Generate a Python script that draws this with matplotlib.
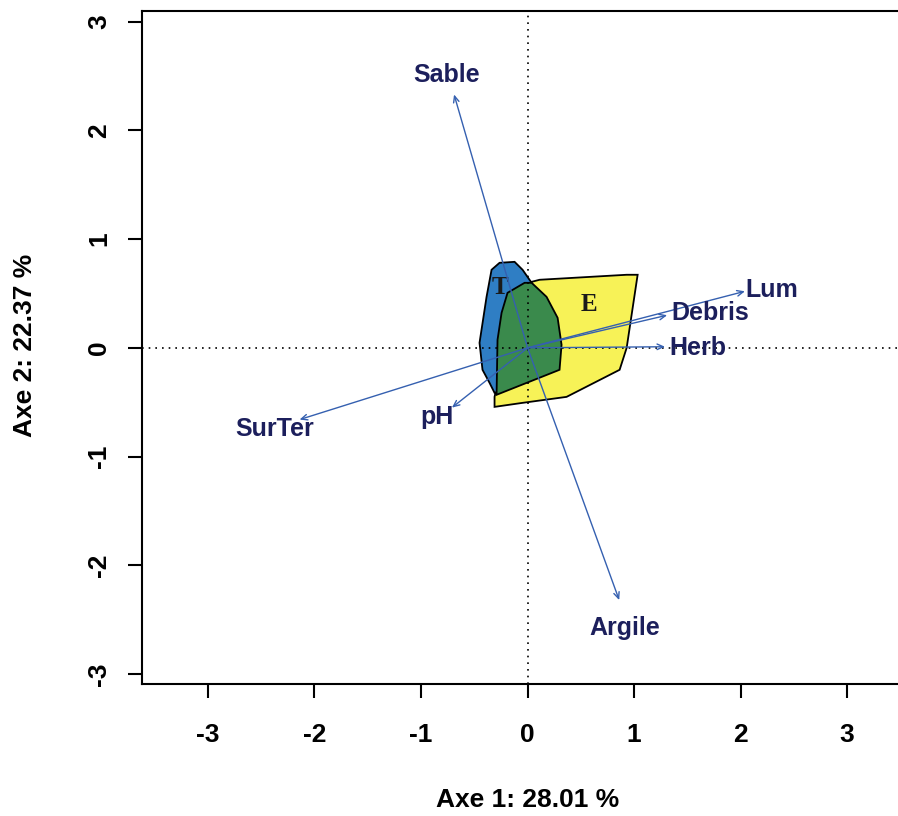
import matplotlib
matplotlib.use('Agg')
import matplotlib.pyplot as plt
from matplotlib.patches import Polygon

plt.rcParams['font.family'] = ['Liberation Sans', 'DejaVu Sans']
plt.rcParams['font.weight'] = 'bold'
plt.rcParams['axes.unicode_minus'] = False

# variable arrows (tips) and their label positions
variables = ['Sable', 'Argile', 'Lum', 'Debris', 'Herb', 'SurTer', 'pH']
tip_x = [-0.69, 0.86, 2.04, 1.31, 1.29, -2.14, -0.71]
tip_y = [2.33, -2.32, 0.52, 0.30, 0.01, -0.66, -0.55]
lab_x = [-0.76, 0.91, 2.29, 1.71, 1.60, -2.37, -0.85]
lab_y = [2.51, -2.58, 0.53, 0.32, 0.00, -0.75, -0.64]

# group hulls
hull_T = [(-0.263, 0.782), (-0.122, 0.791), (-0.047, 0.718), (0.038, 0.598),
          (0.113, 0.258), (0.019, -0.294), (-0.310, -0.414), (-0.357, -0.322),
          (-0.423, -0.202), (-0.451, 0.046), (-0.385, 0.469), (-0.338, 0.718)]
hull_E = [(0.038, 0.607), (0.113, 0.626), (0.930, 0.672), (1.033, 0.672),
          (0.930, 0.0), (0.864, -0.202), (0.366, -0.451), (-0.047, -0.506),
          (-0.310, -0.543), (-0.310, -0.451), (-0.169, 0.166)]
hull_TE = [(-0.028, 0.598), (0.038, 0.598), (0.178, 0.469), (0.282, 0.276),
           (0.319, 0.028), (0.300, -0.202), (-0.291, -0.432), (-0.282, 0.074),
           (-0.244, 0.322), (-0.188, 0.506)]
group_labels = ['T', 'E']
group_lx = [-0.263, 0.573]
group_ly = [0.552, 0.396]

fig = plt.figure(figsize=(8.98, 8.16), dpi=100)
ax = fig.add_axes([0.158, 0.162, 0.859, 0.8248])

ax.add_patch(Polygon(hull_E, closed=True, fc='#f7f257', ec='black', lw=1.3, zorder=2))
ax.add_patch(Polygon(hull_T, closed=True, fc='#2f7ec4', ec='black', lw=1.3, zorder=3))
ax.add_patch(Polygon(hull_TE, closed=True, fc='#3a8a4c', ec='black', lw=1.3, zorder=4))

ax.axhline(0, color='black', ls=(0, (1, 3)), lw=1.2, zorder=5)
ax.axvline(0, color='black', ls=(0, (1, 3)), lw=1.2, zorder=5)

for lab, x0, y0 in zip(group_labels, group_lx, group_ly):
    ax.text(x0, y0, lab, family='Liberation Serif', fontsize=18,
            fontweight='bold', color='#1a1a1a', ha='center', va='center',
            zorder=6)

for name, tx, ty, lx, ly in zip(variables, tip_x, tip_y, lab_x, lab_y):
    ax.annotate('', xy=(tx, ty), xytext=(0, 0),
                arrowprops=dict(arrowstyle='->,head_length=0.45,head_width=0.2',
                                color='#3560b0', lw=1.0, shrinkA=0, shrinkB=0),
                zorder=7)
    ax.text(lx, ly, name, fontsize=18, fontweight='bold', color='#1c1f5c',
            ha='center', va='center', zorder=8)

ax.set_xlim(-3.62, 3.62)
ax.set_ylim(-3.09, 3.10)
ax.set_xticks([-3, -2, -1, 0, 1, 2, 3])
ax.set_yticks([-3, -2, -1, 0, 1, 2, 3])
ax.tick_params(axis='both', length=10, width=1.5, labelsize=19)
ax.tick_params(axis='x', pad=18)
ax.tick_params(axis='y', pad=12)
for lbl in ax.get_yticklabels():
    lbl.set_rotation(90)
    lbl.set_va('center')
for s in ax.spines.values():
    s.set_linewidth(1.5)

fig.text(0.588, 0.02, 'Axe 1: 28.01 %', fontsize=19, fontweight='bold',
         ha='center', va='center')
fig.text(0.028, 0.577, 'Axe 2: 22.37 %', fontsize=19, fontweight='bold',
         ha='center', va='center', rotation=90)

fig.savefig('out.png', dpi=100)
